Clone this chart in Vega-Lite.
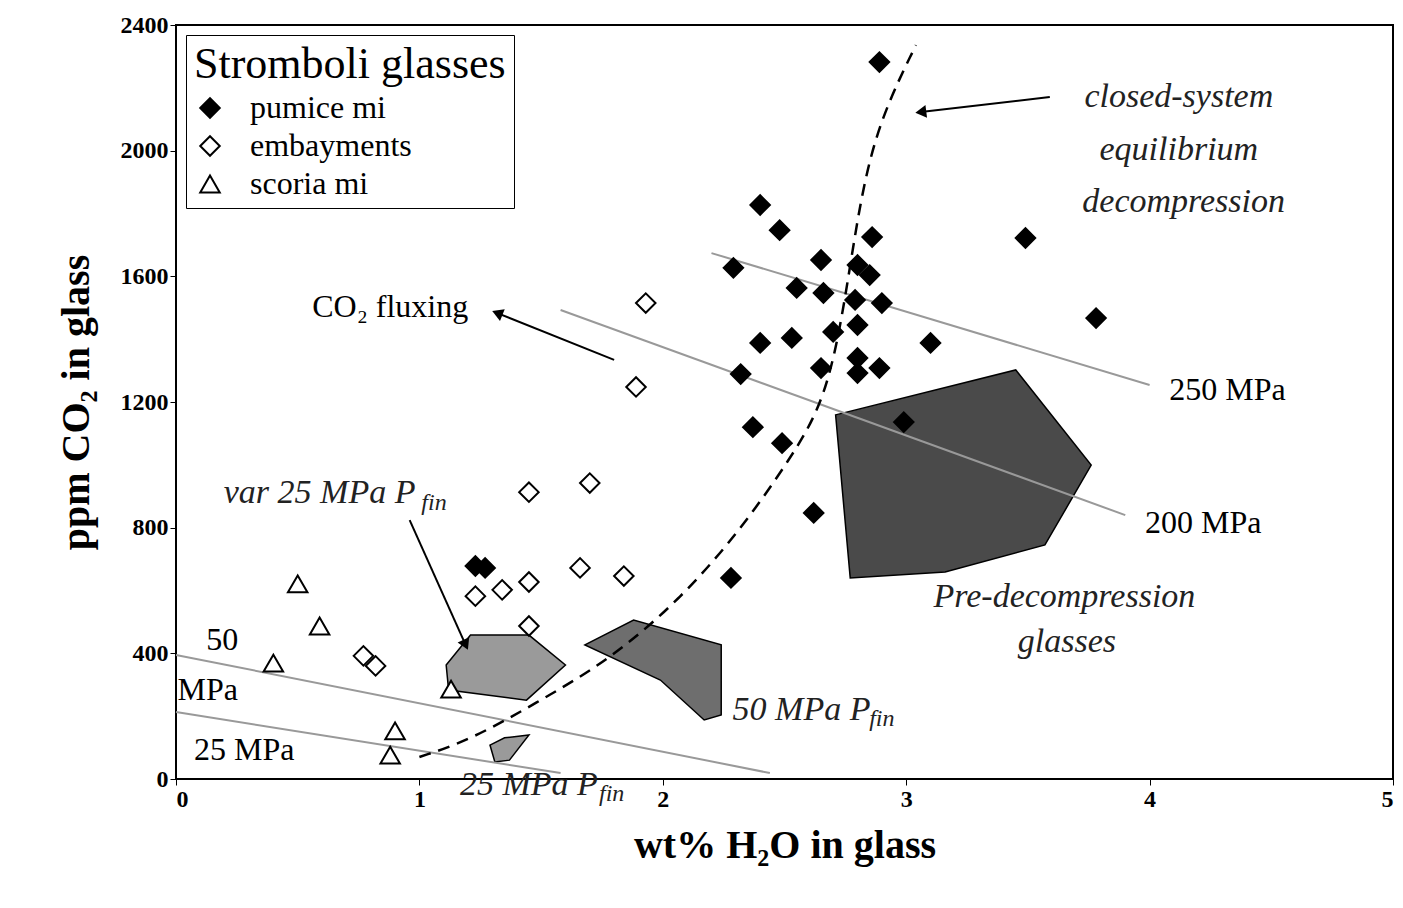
{
  "$schema": "https://vega.github.io/schema/vega-lite/v6.json",
  "width": 1217,
  "height": 754,
  "autosize": "none",
  "padding": {"left": 176, "top": 25, "right": 10, "bottom": 129},
  "background": "white",
  "config": {
    "font": "Liberation Serif",
    "view": {"stroke": "black", "strokeWidth": 2},
    "axis": {"grid": false, "domainColor": "black", "tickColor": "black", "labelFont": "Liberation Serif", "labelFontWeight": "bold", "labelFontSize": 24, "labelColor": "black", "titleFont": "Liberation Serif", "titleFontWeight": "bold", "titleFontSize": 40, "titleColor": "black", "tickSize": 6},
    "legend": {"orient": "top-left", "offset": 10, "strokeColor": "black", "fillColor": "white", "padding": 8, "titleFont": "Liberation Serif", "titleFontSize": 44, "titleFontWeight": "normal", "titleColor": "black", "titleLimit": 500, "labelLimit": 400, "labelFont": "Liberation Serif", "labelFontSize": 32, "labelColor": "black", "symbolSize": 380, "symbolStrokeWidth": 2, "rowPadding": 6, "labelOffset": 24}
  },
  "datasets": {
    "pts": [
      {"h2o": 2.89, "co2": 2282, "type": "pumice mi"},
      {"h2o": 2.40, "co2": 1827, "type": "pumice mi"},
      {"h2o": 2.48, "co2": 1747, "type": "pumice mi"},
      {"h2o": 2.86, "co2": 1725, "type": "pumice mi"},
      {"h2o": 3.49, "co2": 1722, "type": "pumice mi"},
      {"h2o": 2.29, "co2": 1627, "type": "pumice mi"},
      {"h2o": 2.65, "co2": 1652, "type": "pumice mi"},
      {"h2o": 2.80, "co2": 1636, "type": "pumice mi"},
      {"h2o": 2.85, "co2": 1604, "type": "pumice mi"},
      {"h2o": 2.55, "co2": 1563, "type": "pumice mi"},
      {"h2o": 2.66, "co2": 1547, "type": "pumice mi"},
      {"h2o": 2.79, "co2": 1525, "type": "pumice mi"},
      {"h2o": 2.90, "co2": 1515, "type": "pumice mi"},
      {"h2o": 3.78, "co2": 1467, "type": "pumice mi"},
      {"h2o": 2.80, "co2": 1445, "type": "pumice mi"},
      {"h2o": 2.70, "co2": 1423, "type": "pumice mi"},
      {"h2o": 2.40, "co2": 1388, "type": "pumice mi"},
      {"h2o": 2.53, "co2": 1404, "type": "pumice mi"},
      {"h2o": 3.10, "co2": 1388, "type": "pumice mi"},
      {"h2o": 2.80, "co2": 1340, "type": "pumice mi"},
      {"h2o": 2.65, "co2": 1308, "type": "pumice mi"},
      {"h2o": 2.89, "co2": 1308, "type": "pumice mi"},
      {"h2o": 2.80, "co2": 1292, "type": "pumice mi"},
      {"h2o": 2.32, "co2": 1289, "type": "pumice mi"},
      {"h2o": 2.99, "co2": 1136, "type": "pumice mi"},
      {"h2o": 2.37, "co2": 1120, "type": "pumice mi"},
      {"h2o": 2.49, "co2": 1069, "type": "pumice mi"},
      {"h2o": 2.62, "co2": 847, "type": "pumice mi"},
      {"h2o": 1.23, "co2": 678, "type": "pumice mi"},
      {"h2o": 1.27, "co2": 672, "type": "pumice mi"},
      {"h2o": 2.28, "co2": 640, "type": "pumice mi"},
      {"h2o": 1.93, "co2": 1515, "type": "embayments"},
      {"h2o": 1.89, "co2": 1248, "type": "embayments"},
      {"h2o": 1.45, "co2": 913, "type": "embayments"},
      {"h2o": 1.70, "co2": 942, "type": "embayments"},
      {"h2o": 1.45, "co2": 627, "type": "embayments"},
      {"h2o": 1.66, "co2": 672, "type": "embayments"},
      {"h2o": 1.84, "co2": 646, "type": "embayments"},
      {"h2o": 1.23, "co2": 582, "type": "embayments"},
      {"h2o": 1.34, "co2": 602, "type": "embayments"},
      {"h2o": 1.45, "co2": 487, "type": "embayments"},
      {"h2o": 0.77, "co2": 392, "type": "embayments"},
      {"h2o": 0.82, "co2": 360, "type": "embayments"},
      {"h2o": 0.50, "co2": 621, "type": "scoria mi"},
      {"h2o": 0.59, "co2": 487, "type": "scoria mi"},
      {"h2o": 0.40, "co2": 369, "type": "scoria mi"},
      {"h2o": 1.13, "co2": 286, "type": "scoria mi"},
      {"h2o": 0.90, "co2": 153, "type": "scoria mi"},
      {"h2o": 0.88, "co2": 76, "type": "scoria mi"}
    ],
    "isobars": [
      {"h2o": 2.20, "co2": 1674, "p": "250"}, {"h2o": 4.00, "co2": 1254, "p": "250"},
      {"h2o": 1.58, "co2": 1493, "p": "200"}, {"h2o": 3.90, "co2": 840, "p": "200"},
      {"h2o": 0, "co2": 395, "p": "50"}, {"h2o": 2.44, "co2": 19, "p": "50"},
      {"h2o": 0, "co2": 213, "p": "25"}, {"h2o": 1.58, "co2": 19, "p": "25"}
    ],
    "curve": [
      {"h2o": 1.00, "co2": 70}, {"h2o": 1.21, "co2": 124}, {"h2o": 1.50, "co2": 251},
      {"h2o": 1.78, "co2": 379}, {"h2o": 2.07, "co2": 570}, {"h2o": 2.32, "co2": 793},
      {"h2o": 2.52, "co2": 1015}, {"h2o": 2.67, "co2": 1206}, {"h2o": 2.75, "co2": 1525},
      {"h2o": 2.81, "co2": 1843}, {"h2o": 2.89, "co2": 2098}, {"h2o": 3.04, "co2": 2336}
    ],
    "polys": [
      {"poly": "pre", "o": 1, "h2o": 2.71, "co2": 1159}, {"poly": "pre", "o": 2, "h2o": 3.45, "co2": 1302},
      {"poly": "pre", "o": 3, "h2o": 3.76, "co2": 999}, {"poly": "pre", "o": 4, "h2o": 3.57, "co2": 745},
      {"poly": "pre", "o": 5, "h2o": 3.16, "co2": 659}, {"poly": "pre", "o": 6, "h2o": 2.77, "co2": 640},
      {"poly": "p50", "o": 1, "h2o": 1.68, "co2": 427}, {"poly": "p50", "o": 2, "h2o": 1.88, "co2": 506},
      {"poly": "p50", "o": 3, "h2o": 2.24, "co2": 427}, {"poly": "p50", "o": 4, "h2o": 2.24, "co2": 204},
      {"poly": "p50", "o": 5, "h2o": 2.17, "co2": 188}, {"poly": "p50", "o": 6, "h2o": 1.99, "co2": 315},
      {"poly": "var25", "o": 1, "h2o": 1.11, "co2": 363}, {"poly": "var25", "o": 2, "h2o": 1.21, "co2": 458},
      {"poly": "var25", "o": 3, "h2o": 1.45, "co2": 458}, {"poly": "var25", "o": 4, "h2o": 1.60, "co2": 363},
      {"poly": "var25", "o": 5, "h2o": 1.44, "co2": 251}, {"poly": "var25", "o": 6, "h2o": 1.12, "co2": 283},
      {"poly": "p25", "o": 1, "h2o": 1.29, "co2": 108}, {"poly": "p25", "o": 2, "h2o": 1.35, "co2": 131},
      {"poly": "p25", "o": 3, "h2o": 1.45, "co2": 140}, {"poly": "p25", "o": 4, "h2o": 1.37, "co2": 60},
      {"poly": "p25", "o": 5, "h2o": 1.31, "co2": 54}
    ],
    "arrows": [
      {"x1": 1.80, "y1": 1334, "x2": 1.32, "y2": 1483, "ang": 292},
      {"x1": 3.59, "y1": 2171, "x2": 3.06, "y2": 2123, "ang": 263},
      {"x1": 0.96, "y1": 824, "x2": 1.19, "y2": 427, "ang": 156}
    ],
    "upright": [
      {"h2o": 0.88, "co2": 1502, "t": "CO₂ fluxing"},
      {"h2o": 4.32, "co2": 1238, "t": "250 MPa"},
      {"h2o": 4.22, "co2": 815, "t": "200 MPa"},
      {"h2o": 0.19, "co2": 442, "t": "50"},
      {"h2o": 0.13, "co2": 283, "t": "MPa"},
      {"h2o": 0.28, "co2": 92, "t": "25 MPa"}
    ],
    "italic": [
      {"h2o": 4.12, "co2": 2171, "t": "closed-system"},
      {"h2o": 4.12, "co2": 2002, "t": "equilibrium"},
      {"h2o": 4.14, "co2": 1837, "t": "decompression"},
      {"h2o": 3.65, "co2": 579, "t": "Pre-decompression"},
      {"h2o": 3.66, "co2": 436, "t": "glasses"},
      {"h2o": 0.59, "co2": 910, "t": "var 25 MPa P"},
      {"h2o": 2.57, "co2": 220, "t": "50 MPa P"},
      {"h2o": 1.45, "co2": -19, "t": "25 MPa P"}
    ],
    "subs": [
      {"h2o": 1.06, "co2": 880, "t": "fin"},
      {"h2o": 2.90, "co2": 190, "t": "fin"},
      {"h2o": 1.79, "co2": -49, "t": "fin"}
    ]
  },
  "layer": [
    {
      "data": {"name": "polys"},
      "transform": [{"filter": "datum.poly == 'pre'"}],
      "mark": {"type": "line", "interpolate": "linear-closed", "stroke": "black", "strokeWidth": 1.5, "fill": "#4a4a4a"},
      "encoding": {
        "x": {"field": "h2o", "type": "quantitative", "scale": {"domain": [0, 5]}, "axis": {"values": [0, 1, 2, 3, 4, 5], "format": "d", "title": "wt% H₂O in glass", "titlePadding": 14}},
        "y": {"field": "co2", "type": "quantitative", "scale": {"domain": [0, 2400]}, "axis": {"values": [0, 400, 800, 1200, 1600, 2000, 2400], "format": "d", "title": "ppm CO₂ in glass", "titlePadding": 24}},
        "order": {"field": "o"}
      }
    },
    {
      "data": {"name": "polys"},
      "transform": [{"filter": "datum.poly == 'p50'"}],
      "mark": {"type": "line", "interpolate": "linear-closed", "stroke": "black", "strokeWidth": 1.5, "fill": "#6e6e6e"},
      "encoding": {"x": {"field": "h2o", "type": "quantitative"}, "y": {"field": "co2", "type": "quantitative"}, "order": {"field": "o"}}
    },
    {
      "data": {"name": "polys"},
      "transform": [{"filter": "datum.poly == 'var25' || datum.poly == 'p25'"}],
      "mark": {"type": "line", "interpolate": "linear-closed", "stroke": "black", "strokeWidth": 1.5, "fill": "#9a9a9a"},
      "encoding": {"x": {"field": "h2o", "type": "quantitative"}, "y": {"field": "co2", "type": "quantitative"}, "order": {"field": "o"}, "detail": {"field": "poly"}}
    },
    {
      "data": {"name": "isobars"},
      "mark": {"type": "line", "color": "#999999", "strokeWidth": 2},
      "encoding": {"x": {"field": "h2o", "type": "quantitative"}, "y": {"field": "co2", "type": "quantitative"}, "detail": {"field": "p"}}
    },
    {
      "data": {"name": "curve"},
      "mark": {"type": "line", "color": "black", "strokeWidth": 2.5, "strokeDash": [12, 8], "interpolate": "basis"},
      "encoding": {"x": {"field": "h2o", "type": "quantitative"}, "y": {"field": "co2", "type": "quantitative"}}
    },
    {
      "data": {"name": "arrows"},
      "mark": {"type": "rule", "color": "black", "strokeWidth": 2},
      "encoding": {"x": {"field": "x1", "type": "quantitative"}, "y": {"field": "y1", "type": "quantitative"}, "x2": {"field": "x2"}, "y2": {"field": "y2"}}
    },
    {
      "data": {"name": "arrows"},
      "mark": {"type": "point", "shape": "triangle-up", "filled": true, "color": "black", "size": 160, "opacity": 1},
      "encoding": {"x": {"field": "x2", "type": "quantitative"}, "y": {"field": "y2", "type": "quantitative"}, "angle": {"field": "ang", "type": "quantitative", "scale": null}}
    },
    {
      "data": {"name": "pts"},
      "mark": {"type": "point", "strokeWidth": 2, "opacity": 1, "fillOpacity": 1, "strokeOpacity": 1, "size": 380},
      "encoding": {
        "x": {"field": "h2o", "type": "quantitative"},
        "y": {"field": "co2", "type": "quantitative"},
        "shape": {"field": "type", "type": "nominal", "sort": null, "scale": {"domain": ["pumice mi", "embayments", "scoria mi"], "range": ["diamond", "diamond", "triangle-up"]}, "title": "Stromboli glasses"},
        "fill": {"field": "type", "type": "nominal", "sort": null, "scale": {"domain": ["pumice mi", "embayments", "scoria mi"], "range": ["#000000", "#ffffff", "#ffffff"]}, "title": "Stromboli glasses"},
        "stroke": {"field": "type", "type": "nominal", "sort": null, "scale": {"domain": ["pumice mi", "embayments", "scoria mi"], "range": ["#000000", "#000000", "#000000"]}, "title": "Stromboli glasses"}
      }
    },
    {
      "data": {"name": "upright"},
      "mark": {"type": "text", "fontSize": 32, "font": "Liberation Serif", "color": "black", "clip": false},
      "encoding": {"x": {"field": "h2o", "type": "quantitative"}, "y": {"field": "co2", "type": "quantitative"}, "text": {"field": "t"}}
    },
    {
      "data": {"name": "italic"},
      "mark": {"type": "text", "fontSize": 34, "fontStyle": "italic", "font": "Liberation Serif", "color": "#222", "clip": false},
      "encoding": {"x": {"field": "h2o", "type": "quantitative"}, "y": {"field": "co2", "type": "quantitative"}, "text": {"field": "t"}}
    },
    {
      "data": {"name": "subs"},
      "mark": {"type": "text", "fontSize": 24, "fontStyle": "italic", "font": "Liberation Serif", "color": "#222", "clip": false},
      "encoding": {"x": {"field": "h2o", "type": "quantitative"}, "y": {"field": "co2", "type": "quantitative"}, "text": {"field": "t"}}
    }
  ]
}
